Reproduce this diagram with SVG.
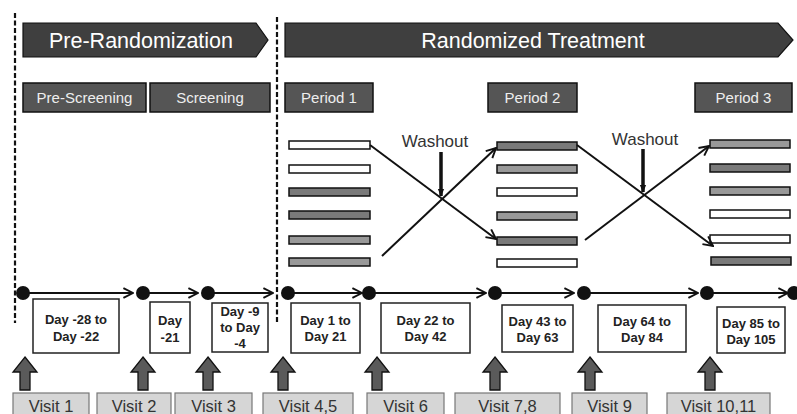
<svg xmlns="http://www.w3.org/2000/svg" width="797" height="414" viewBox="0 0 797 414">
<style>
.chev{fill:#3f3f3f;stroke:#111;stroke-width:1.2}
.chevt{font-family:"Liberation Sans",Arial,sans-serif;font-size:21.5px;fill:#fff;text-anchor:middle}
.per{fill:#555;stroke:#111;stroke-width:1.5}
.pert{font-family:"Liberation Sans",Arial,sans-serif;font-size:15px;fill:#eee;text-anchor:middle}
.bar{stroke:#111;stroke-width:1.5}
.w{fill:#fff}.d{fill:#7a7a7a}.m{fill:#999}
.dash{stroke:#111;stroke-width:2.2;stroke-dasharray:5 2.5;fill:none}
.ln{stroke:#111;stroke-width:2;fill:none}
.dot{fill:#111}
.day{fill:#fff;stroke:#222;stroke-width:1.5}
.dayt{font-family:"Liberation Sans",Arial,sans-serif;font-size:13px;font-weight:bold;fill:#222;text-anchor:middle}
.up{fill:#5a5a5a;stroke:#111;stroke-width:1.3}
.vis{fill:#d6d6d6;stroke:#777;stroke-width:1.2}
.vist{font-family:"Liberation Sans",Arial,sans-serif;font-size:16.5px;fill:#333;text-anchor:middle}
.wash{font-family:"Liberation Sans",Arial,sans-serif;font-size:17px;fill:#333;text-anchor:middle}
</style>
<defs>
<marker id="ahs" viewBox="0 0 10 10" refX="9" refY="5" markerWidth="12" markerHeight="12" orient="auto" markerUnits="userSpaceOnUse">
<path d="M1,1 L9,5 L1,9" fill="none" stroke="#111" stroke-width="1.6"/>
</marker>
<marker id="wa" viewBox="0 0 10 10" refX="9" refY="5" markerWidth="8" markerHeight="8" orient="auto" markerUnits="userSpaceOnUse">
<path d="M0,1 L10,5 L0,9 Z" fill="#111"/>
</marker>
</defs>

<g id="dividers">
<line class="dash" x1="15" y1="13" x2="15" y2="323"/>
<line class="dash" x1="277" y1="17" x2="277" y2="323"/>
</g>

<g id="pre-randomization">
<path class="chev" d="M23,23 H256 L268,40 L256,57 H23 Z"/>
<text class="chevt" x="141" y="48">Pre-Randomization</text>
</g>
<g id="randomized-treatment">
<path class="chev" d="M285,23 H778 L793,40 L778,57 H285 Z"/>
<text class="chevt" x="533" y="48">Randomized Treatment</text>
</g>

<g id="pre-screening"><rect class="per" x="23" y="83" width="123" height="29"/><text class="pert" x="84.5" y="103">Pre-Screening</text></g>
<g id="screening"><rect class="per" x="150" y="83" width="120" height="29"/><text class="pert" x="210" y="103">Screening</text></g>
<g id="period1"><rect class="per" x="285" y="83" width="88" height="29"/><text class="pert" x="329" y="103">Period 1</text></g>
<g id="period2"><rect class="per" x="488" y="83" width="89" height="29"/><text class="pert" x="532.5" y="103">Period 2</text></g>
<g id="period3"><rect class="per" x="695" y="83" width="97" height="29"/><text class="pert" x="743.5" y="103">Period 3</text></g>

<g id="bars-period1">
<rect class="bar w" x="289" y="141" width="81" height="8"/>
<rect class="bar w" x="289" y="165" width="81" height="8"/>
<rect class="bar d" x="289" y="188" width="81" height="8"/>
<rect class="bar d" x="289" y="211" width="81" height="8"/>
<rect class="bar m" x="289" y="236" width="81" height="8"/>
<rect class="bar m" x="289" y="258" width="81" height="8"/>
</g>
<g id="bars-period2">
<rect class="bar d" x="497" y="142" width="80" height="8"/>
<rect class="bar m" x="497" y="165" width="80" height="8"/>
<rect class="bar w" x="497" y="188" width="80" height="8"/>
<rect class="bar m" x="497" y="212" width="80" height="8"/>
<rect class="bar d" x="497" y="237" width="80" height="8"/>
<rect class="bar w" x="497" y="259" width="80" height="8"/>
</g>
<g id="bars-period3">
<rect class="bar m" x="710" y="140" width="80" height="8"/>
<rect class="bar d" x="710" y="164" width="80" height="8"/>
<rect class="bar m" x="710" y="187" width="80" height="8"/>
<rect class="bar w" x="710" y="210" width="80" height="8"/>
<rect class="bar w" x="710" y="235" width="80" height="8"/>
<rect class="bar d" x="711" y="257" width="80" height="8"/>
</g>

<g id="washout1">
<text class="wash" x="435" y="147">Washout</text>
</g>
<g id="washout2">
<text class="wash" x="645" y="145">Washout</text>
</g>

<g id="connectors">
<line class="ln" x1="370" y1="145" x2="496" y2="239" marker-end="url(#ahs)"/>
<line class="ln" x1="382" y1="256" x2="496" y2="148" marker-end="url(#ahs)"/>
<line x1="441" y1="152" x2="441" y2="196" stroke="#111" stroke-width="3.5" marker-end="url(#wa)"/>
<line class="ln" x1="577" y1="145" x2="713" y2="246" marker-end="url(#ahs)"/>
<line class="ln" x1="585" y1="240" x2="709" y2="146" marker-end="url(#ahs)"/>
<line x1="643" y1="149" x2="643" y2="192" stroke="#111" stroke-width="3.5" marker-end="url(#wa)"/>

<line class="ln" x1="23" y1="293" x2="133" y2="293" marker-end="url(#ahs)"/>
<line class="ln" x1="143" y1="293" x2="198" y2="293" marker-end="url(#ahs)"/>
<line class="ln" x1="208" y1="293" x2="273" y2="293" marker-end="url(#ahs)"/>
<line class="ln" x1="288" y1="293" x2="362" y2="293" marker-end="url(#ahs)"/>
<line class="ln" x1="369" y1="293" x2="486" y2="293" marker-end="url(#ahs)"/>
<line class="ln" x1="495" y1="293" x2="574" y2="293" marker-end="url(#ahs)"/>
<line class="ln" x1="584" y1="293" x2="698" y2="293" marker-end="url(#ahs)"/>
<line class="ln" x1="707" y1="293" x2="788" y2="293" marker-end="url(#ahs)"/>
</g>

<g id="timeline-dots">
<circle class="dot" cx="23" cy="293" r="7"/>
<circle class="dot" cx="143" cy="293" r="7"/>
<circle class="dot" cx="208" cy="293" r="7"/>
<circle class="dot" cx="288" cy="293" r="7"/>
<circle class="dot" cx="369" cy="293" r="7"/>
<circle class="dot" cx="495" cy="293" r="7"/>
<circle class="dot" cx="584" cy="293" r="7"/>
<circle class="dot" cx="707" cy="293" r="7"/>
<circle class="dot" cx="794" cy="293" r="7"/>
</g>

<g id="day1"><rect class="day" x="33" y="299" width="86" height="54"/><text class="dayt" x="76" y="324">Day -28 to</text><text class="dayt" x="76" y="341">Day -22</text></g>
<g id="day2"><rect class="day" x="150" y="302" width="40" height="51"/><text class="dayt" x="170" y="325">Day</text><text class="dayt" x="170" y="342">-21</text></g>
<g id="day3"><rect class="day" x="212" y="303" width="56" height="49"/><text class="dayt" x="240" y="316">Day -9</text><text class="dayt" x="240" y="332">to Day</text><text class="dayt" x="240" y="348">-4</text></g>
<g id="day4"><rect class="day" x="291" y="303" width="69" height="50"/><text class="dayt" x="325.5" y="325">Day 1 to</text><text class="dayt" x="325.5" y="341">Day 21</text></g>
<g id="day5"><rect class="day" x="381" y="303" width="89" height="50"/><text class="dayt" x="425.5" y="325">Day 22 to</text><text class="dayt" x="425.5" y="341">Day 42</text></g>
<g id="day6"><rect class="day" x="502" y="305" width="71" height="47"/><text class="dayt" x="537.5" y="326">Day 43 to</text><text class="dayt" x="537.5" y="342">Day 63</text></g>
<g id="day7"><rect class="day" x="598" y="305" width="88" height="47"/><text class="dayt" x="642" y="326">Day 64 to</text><text class="dayt" x="642" y="342">Day 84</text></g>
<g id="day8"><rect class="day" x="717" y="307" width="68" height="46"/><text class="dayt" x="751" y="328">Day 85 to</text><text class="dayt" x="751" y="344">Day 105</text></g>

<g id="up-arrows">
<path class="up" d="M25,357 L37,372 H30 V390 H20 V372 H13 Z"/>
<path class="up" d="M143,357 L155,372 H148 V390 H138 V372 H131 Z"/>
<path class="up" d="M208,357 L220,372 H213 V390 H203 V372 H196 Z"/>
<path class="up" d="M283,357 L295,372 H288 V390 H278 V372 H271 Z"/>
<path class="up" d="M377,357 L389,372 H382 V390 H372 V372 H365 Z"/>
<path class="up" d="M495,357 L507,372 H500 V390 H490 V372 H483 Z"/>
<path class="up" d="M590,357 L602,372 H595 V390 H585 V372 H578 Z"/>
<path class="up" d="M710,357 L722,372 H715 V390 H705 V372 H698 Z"/>
</g>

<g id="visit1"><rect class="vis" x="13" y="393" width="76" height="24"/><text class="vist" x="51" y="412">Visit 1</text></g>
<g id="visit2"><rect class="vis" x="97" y="393" width="74" height="24"/><text class="vist" x="134" y="412">Visit 2</text></g>
<g id="visit3"><rect class="vis" x="175" y="393" width="77" height="24"/><text class="vist" x="213.5" y="412">Visit 3</text></g>
<g id="visit45"><rect class="vis" x="263" y="393" width="90" height="24"/><text class="vist" x="308" y="412">Visit 4,5</text></g>
<g id="visit6"><rect class="vis" x="367" y="393" width="77" height="24"/><text class="vist" x="405.5" y="412">Visit 6</text></g>
<g id="visit78"><rect class="vis" x="455" y="393" width="105" height="24"/><text class="vist" x="507.5" y="412">Visit 7,8</text></g>
<g id="visit9"><rect class="vis" x="572" y="393" width="75" height="24"/><text class="vist" x="609.5" y="412">Visit 9</text></g>
<g id="visit1011"><rect class="vis" x="667" y="393" width="103" height="24"/><text class="vist" x="718.5" y="412">Visit 10,11</text></g>
</svg>
